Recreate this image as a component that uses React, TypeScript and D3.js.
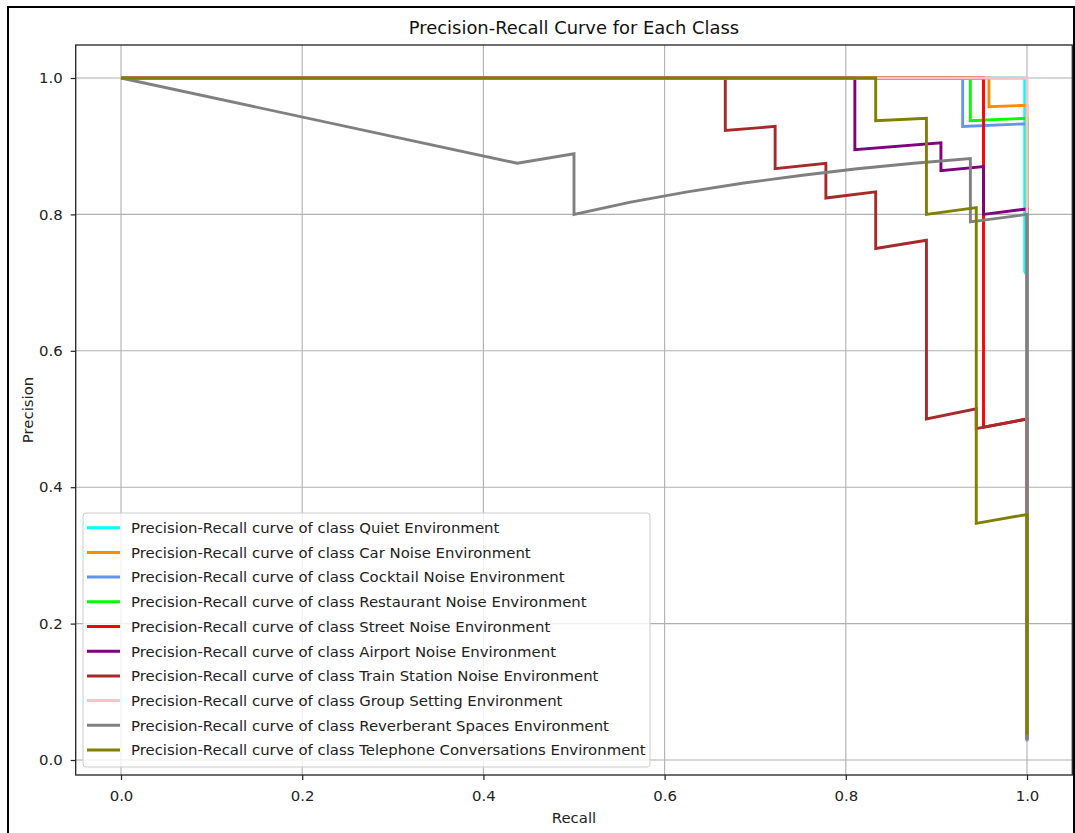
import { useRef, useEffect } from 'react';
import * as d3 from 'd3';

const W = 1075;
const H = 833;
const PLOT = { left: 75.7, right: 1072.3, top: 45, bottom: 775 };
const FONT = '"DejaVu Sans", Verdana, sans-serif';
const FS = 14.9;

const classNames = [
  'Quiet Environment',
  'Car Noise Environment',
  'Cocktail Noise Environment',
  'Restaurant Noise Environment',
  'Street Noise Environment',
  'Airport Noise Environment',
  'Train Station Noise Environment',
  'Group Setting Environment',
  'Reverberant Spaces Environment',
  'Telephone Conversations Environment',
];

const classColors = [
  '#00ffff', '#ff8c00', '#6495ed', '#00ff00', '#ff0000',
  '#800080', '#a52a2a', '#ffc0cb', '#808080', '#808000',
];

// recall / precision pairs, one array per class
const recallQuiet = [0, 0.9975, 0.9975, 1, 1];
const precisionQuiet = [1, 1, 0.716, 0.71, 0.03];

const recallCar = [0, 0.958, 0.958, 1, 1];
const precisionCar = [1, 1, 0.958, 0.96, 0.03];

const recallCocktail = [0, 0.929, 0.929, 1, 1];
const precisionCocktail = [1, 1, 0.929, 0.933, 0.027];

const recallRestaurant = [0, 0.9375, 0.9375, 1, 1];
const precisionRestaurant = [1, 1, 0.9375, 0.941, 0.03];

const recallStreet = [0, 0.952, 0.952, 1, 1];
const precisionStreet = [1, 1, 0.488, 0.5, 0.03];

const recallAirport = [0, 0.81, 0.81, 0.905, 0.905, 0.952, 0.952, 1, 1];
const precisionAirport = [1, 1, 0.895, 0.905, 0.864, 0.87, 0.8, 0.808, 0.03];

const recallTrain = [0, 0.667, 0.667, 0.722, 0.722, 0.778, 0.778, 0.833, 0.833, 0.889, 0.889, 0.944, 0.944, 1, 1];
const precisionTrain = [1, 1, 0.923, 0.929, 0.867, 0.875, 0.824, 0.833, 0.75, 0.762, 0.5, 0.515, 0.486, 0.5, 0.03];

const recallGroup = [0, 1, 1];
const precisionGroup = [1, 1, 0.03];

const recallReverb = [0, 0.4375, 0.5, 0.5, 0.5625, 0.625, 0.6875, 0.75, 0.8125, 0.875, 0.9375, 0.9375, 1, 1];
const precisionReverb = [1, 0.875, 0.889, 0.8, 0.818, 0.833, 0.846, 0.857, 0.867, 0.875, 0.882, 0.789, 0.8, 0.03];

const recallPhone = [0, 0.833, 0.833, 0.889, 0.889, 0.944, 0.944, 1, 1];
const precisionPhone = [1, 1, 0.9375, 0.941, 0.8, 0.81, 0.347, 0.36, 0.037];

const recalls = [recallQuiet, recallCar, recallCocktail, recallRestaurant, recallStreet,
  recallAirport, recallTrain, recallGroup, recallReverb, recallPhone];
const precisions = [precisionQuiet, precisionCar, precisionCocktail, precisionRestaurant, precisionStreet,
  precisionAirport, precisionTrain, precisionGroup, precisionReverb, precisionPhone];

const tickValues = [0, 0.2, 0.4, 0.6, 0.8, 1.0];

export default function App() {
  const svgRef = useRef<SVGSVGElement | null>(null);

  useEffect(() => {
    const svg = d3.select(svgRef.current);
    svg.selectAll('*').remove();

    const x = d3.scaleLinear().domain([-0.05, 1.05]).range([PLOT.left, PLOT.right]);
    const y = d3.scaleLinear().domain([-0.022, 1.0484]).range([PLOT.bottom, PLOT.top]);

    svg.append('rect').attr('width', W).attr('height', H).attr('fill', '#fff');

    // outer frame of the figure
    svg.append('rect')
      .attr('x', 8).attr('y', 7).attr('width', 1066).attr('height', 900)
      .attr('fill', 'none').attr('stroke', '#000').attr('stroke-width', 2);

    // grid
    const grid = svg.append('g');
    tickValues.forEach(t => {
      grid.append('line')
        .attr('x1', x(t)).attr('x2', x(t)).attr('y1', PLOT.top).attr('y2', PLOT.bottom)
        .attr('stroke', '#b0b0b0').attr('stroke-width', 1.1);
      grid.append('line')
        .attr('x1', PLOT.left).attr('x2', PLOT.right).attr('y1', y(t)).attr('y2', y(t))
        .attr('stroke', '#b0b0b0').attr('stroke-width', 1.1);
    });

    // curves
    const line = d3.line<[number, number]>().x(d => x(d[0])).y(d => y(d[1]));
    recalls.forEach((rec, i) => {
      const pts: [number, number][] = rec.map((r, j) => [r, precisions[i][j]]);
      svg.append('path')
        .attr('d', line(pts))
        .attr('fill', 'none')
        .attr('stroke', classColors[i])
        .attr('stroke-width', 2.9)
        .attr('stroke-linejoin', 'miter');
    });

    // spines
    svg.append('rect')
      .attr('x', PLOT.left).attr('y', PLOT.top)
      .attr('width', PLOT.right - PLOT.left).attr('height', PLOT.bottom - PLOT.top)
      .attr('fill', 'none').attr('stroke', '#222').attr('stroke-width', 1.3);

    // axes
    const fmt = d3.format('.1f');
    const xAxis = svg.append('g')
      .attr('transform', `translate(0,${PLOT.bottom})`)
      .call(d3.axisBottom(x).tickValues(tickValues).tickFormat(d => fmt(d as number)).tickSize(5).tickPadding(10).tickSizeOuter(0));
    const yAxis = svg.append('g')
      .attr('transform', `translate(${PLOT.left},0)`)
      .call(d3.axisLeft(y).tickValues(tickValues).tickFormat(d => fmt(d as number)).tickSize(5).tickPadding(8).tickSizeOuter(0));
    [xAxis, yAxis].forEach(a => {
      a.select('.domain').remove();
      a.selectAll('line').attr('stroke', '#222').attr('stroke-width', 1.2);
      a.selectAll('text').attr('fill', '#222').attr('font-size', FS).attr('font-family', FONT);
    });

    // title and axis labels
    svg.append('text')
      .attr('x', (PLOT.left + PLOT.right) / 2).attr('y', 34)
      .attr('text-anchor', 'middle').attr('font-size', 17.9).attr('font-family', FONT).attr('fill', '#111')
      .text('Precision-Recall Curve for Each Class');
    svg.append('text')
      .attr('x', (PLOT.left + PLOT.right) / 2).attr('y', 823)
      .attr('text-anchor', 'middle').attr('font-size', FS).attr('font-family', FONT).attr('fill', '#222')
      .text('Recall');
    svg.append('text')
      .attr('transform', `translate(33,${(PLOT.top + PLOT.bottom) / 2}) rotate(-90)`)
      .attr('text-anchor', 'middle').attr('font-size', FS).attr('font-family', FONT).attr('fill', '#222')
      .text('Precision');

    // legend
    const lg = svg.append('g');
    lg.append('rect')
      .attr('x', 83).attr('y', 513).attr('width', 567).attr('height', 254).attr('rx', 3)
      .attr('fill', '#fff').attr('fill-opacity', 0.8)
      .attr('stroke', '#cccccc').attr('stroke-width', 1);
    classNames.forEach((name, i) => {
      const cy = 527.7 + i * 24.7;
      lg.append('line')
        .attr('x1', 87).attr('x2', 120).attr('y1', cy).attr('y2', cy)
        .attr('stroke', classColors[i]).attr('stroke-width', 3);
      lg.append('text')
        .attr('x', 131).attr('y', cy + 5.3)
        .attr('font-size', FS).attr('font-family', FONT).attr('fill', '#222')
        .text(`Precision-Recall curve of class ${name}`);
    });
  }, []);

  return (
    <div style={{ position: 'absolute', left: 0, top: 0 }}>
      <svg ref={svgRef} width={W} height={H} style={{ display: 'block' }} />
    </div>
  );
}
